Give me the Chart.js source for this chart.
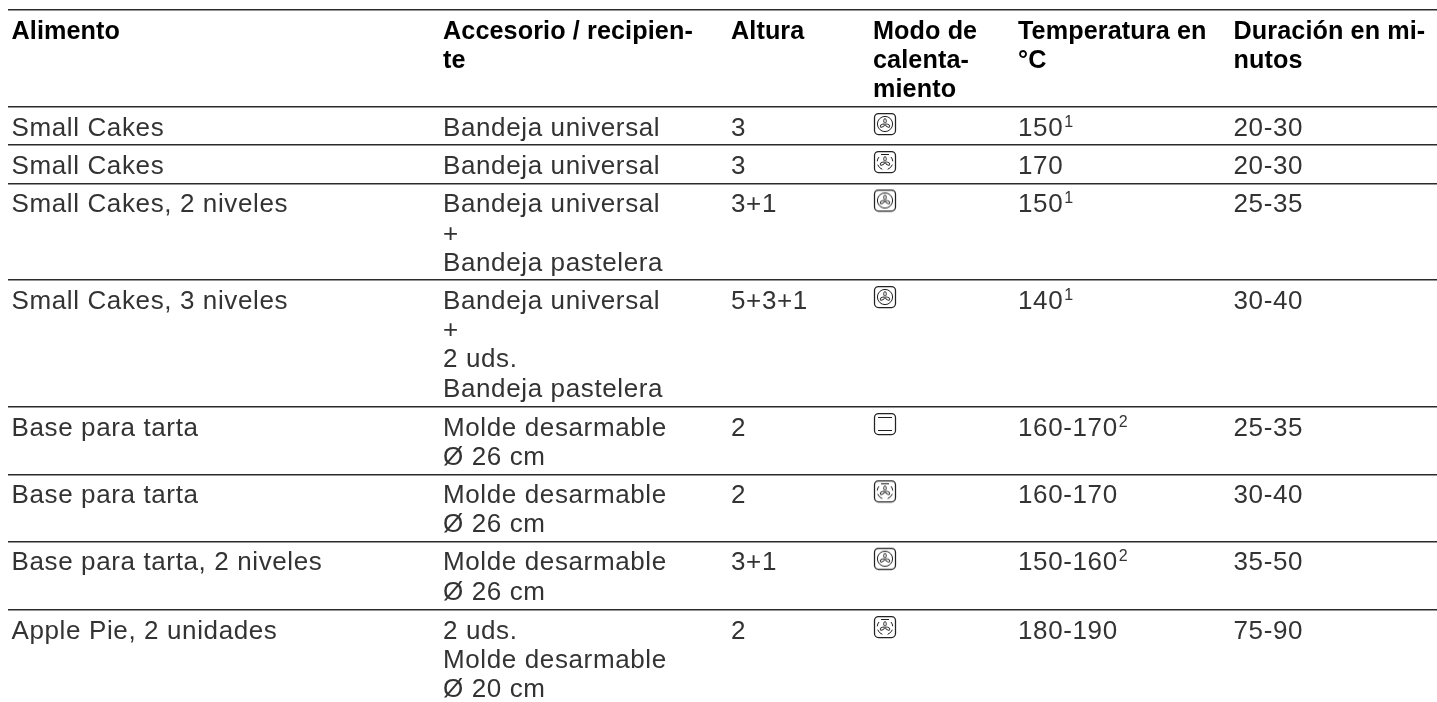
<!DOCTYPE html>
<html lang="es">
<head>
<meta charset="utf-8">
<style>
html,body{margin:0;padding:0;background:#fff;overflow:hidden}
#wrap{position:absolute;left:0;top:0;width:1437px;height:702px}
</style>
<script src="https://cdn.jsdelivr.net/npm/chart.js@4/dist/chart.umd.min.js"></script>
</head>
<body>
<div id="wrap"><canvas id="c" width="1437" height="702"></canvas></div>
<script>
const headers = ["Alimento","Accesorio / recipien-\nte","Altura","Modo de\ncalenta-\nmiento","Temperatura en\n°C","Duración en mi-\nnutos"];
const alimentos = ["Small Cakes","Small Cakes","Small Cakes, 2 niveles","Small Cakes, 3 niveles","Base para tarta","Base para tarta","Base para tarta, 2 niveles","Apple Pie, 2 unidades"];
const accesorios = ["Bandeja universal","Bandeja universal","Bandeja universal\n+\nBandeja pastelera","Bandeja universal\n+\n2 uds.\nBandeja pastelera","Molde desarmable\nØ 26 cm","Molde desarmable\nØ 26 cm","Molde desarmable\nØ 26 cm","2 uds.\nMolde desarmable\nØ 20 cm"];
const alturas = ["3","3","3+1","5+3+1","2","2","3+1","2"];
const modos = ["fan","ring","fan","fan","plain","ring","fan","ring"];
const temperaturas = ["150","170","150","140","160-170","160-170","150-160","180-190"];
const notas = ["1","","1","1","2","","2",""];
const duraciones = ["20-30","20-30","25-35","30-40","25-35","30-40","35-50","75-90"];

const colX = [11.5,443,731,873,1018,1233.5];
const ruleY = [10,107,145,183.5,280,407,474.3,541.7,610];
const LINE = 29.3, BASE = 28.7, BODY = 26, HEAD = 25.2, SUP = 16, TRACK = 0.62, TRACK_BOLD = 0.1;

function icon(kind){
  const s=26, c=document.createElement('canvas'); c.width=s; c.height=s;
  const g=c.getContext('2d'); g.strokeStyle='#222'; g.lineWidth=1.25;
  g.beginPath(); g.roundRect(2.5,2.5,21,21,4); g.stroke();
  const cx=13, cy=13;
  if(kind==='plain'){
    g.lineWidth=1;
    g.beginPath(); g.moveTo(6,6.5); g.lineTo(20,6.5); g.moveTo(6,19.5); g.lineTo(20,19.5); g.stroke();
    return c;
  }
  g.lineWidth=.9;
  [-90,30,150].forEach(a=>{
    const r=a*Math.PI/180;
    g.save(); g.translate(cx+Math.cos(r)*3.1,cy+Math.sin(r)*3.1); g.rotate(r);
    g.beginPath(); g.ellipse(0,0,2.3,1.3,0,0,Math.PI*2); g.stroke(); g.restore();
  });
  g.lineWidth=1;
  if(kind==='fan'){ g.beginPath(); g.arc(cx,cy,7.6,0,Math.PI*2); g.stroke(); }
  else {
    [[-40,-5],[20,70],[110,160],[185,220]].forEach(([a,b])=>{
      g.beginPath(); g.arc(cx,cy,7.8,a*Math.PI/180,b*Math.PI/180); g.stroke();
    });
    g.beginPath(); g.moveTo(9,5.5); g.lineTo(17,5.5); g.stroke();
  }
  return c;
}
const iconCache={fan:icon('fan'),ring:icon('ring'),plain:icon('plain')};

const tablePlugin={
  id:'cellText',
  afterDatasetsDraw(chart){
    const {ctx,scales:{x,y}}=chart;
    ctx.save();
    ctx.textBaseline='alphabetic'; ctx.textAlign='left';
    const put=(text,col,rowTop,font,color)=>{
      ctx.font=font; ctx.fillStyle=color;
      text.split('\n').forEach((t,i)=>{
        ctx.fillText(t,x.getPixelForValue(colX[col]),y.getPixelForValue(rowTop+BASE+i*LINE));
      });
    };
    const body=`${BODY}px "Liberation Sans"`, bold=`bold ${HEAD}px "Liberation Sans"`;
    ctx.letterSpacing=TRACK_BOLD+'px';
    headers.forEach((h,c)=>put(h,c,ruleY[0],bold,'#000'));
    ctx.letterSpacing=TRACK+'px';
    alimentos.forEach((_,r)=>{
      const top=ruleY[r+1];
      [alimentos,accesorios,alturas,null,temperaturas,duraciones].forEach((col,c)=>{ if(col) put(col[r],c,top,body,'#333'); });
      if(notas[r]){
        ctx.font=body; const w=ctx.measureText(temperaturas[r]).width;
        ctx.font=`${SUP}px "Liberation Sans"`; ctx.fillStyle='#333';
        ctx.fillText(notas[r],x.getPixelForValue(colX[4])+w+1,y.getPixelForValue(top+BASE-9));
      }
    });
    ctx.restore();
  }
};

new Chart(document.getElementById('c'),{
  type:'scatter',
  data:{datasets:[{
    label:'Modo de calentamiento',
    data:modos.map((m,i)=>({x:colX[3]+12,y:ruleY[i+1]+17})),
    pointStyle:(ctx)=>iconCache[modos[ctx.dataIndex]],
    pointRadius:13
  }]},
  options:{
    responsive:false,animation:false,
    layout:{autoPadding:false,padding:{left:8,right:0,top:0,bottom:0}},
    plugins:{legend:{display:false},tooltip:{enabled:false},title:{display:false}},
    events:[],
    scales:{
      x:{type:'linear',min:8,max:1437,display:false},
      y:{type:'linear',reverse:true,min:0,max:702,
        afterBuildTicks(s){s.ticks=ruleY.map(v=>({value:v}));},
        border:{display:false},
        grid:{color:'#2b2b2b',lineWidth:1.4,drawTicks:false},
        ticks:{display:false}}
    }
  },
  plugins:[tablePlugin]
});
</script>
</body>
</html>
